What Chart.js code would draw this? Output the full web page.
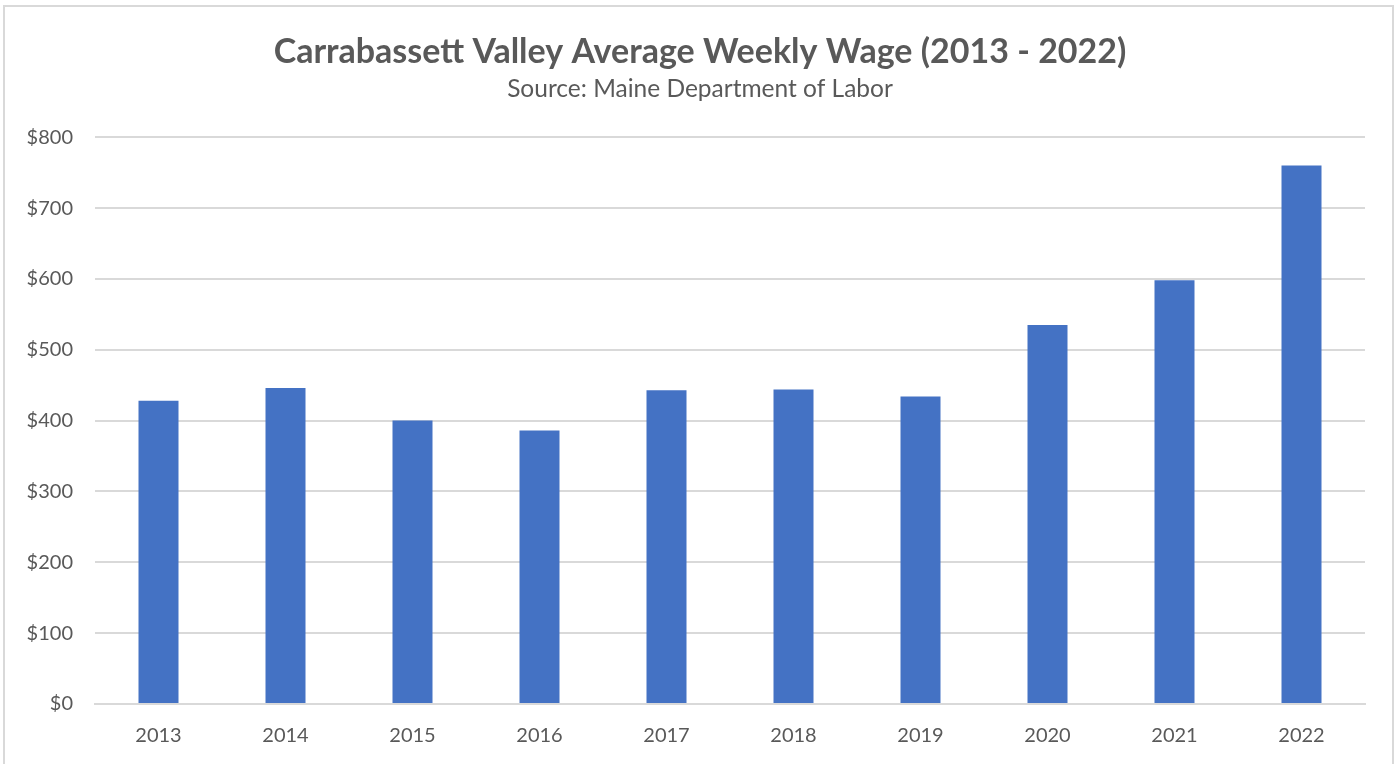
<!DOCTYPE html>
<html>
<head>
<meta charset="utf-8">
<script src="https://cdn.jsdelivr.net/npm/chart.js@4"></script>
<style>
  html, body { margin: 0; padding: 0; background: #fff; overflow: hidden; }
  #frame { position: absolute; left: 3px; top: 5px; width: 1387px; height: 800px; border: 2px solid #d9d9d9; }
  #wrap { position: absolute; left: 0; top: 0; width: 1400px; height: 764px; }
</style>
</head>
<body>
<div id="frame"></div>
<div id="wrap"><canvas id="myChart" width="1400" height="764"></canvas></div>
<script>
const years = ['2013', '2014', '2015', '2016', '2017', '2018', '2019', '2020', '2021', '2022'];
const weeklyWage = [428, 446, 400, 386, 443, 444, 434, 535, 598, 760];
const yTicks = [0, 100, 200, 300, 400, 500, 600, 700, 800];

const textColor = '#595959';
const fontName = 'Lato, "Open Sans", sans-serif';

// centre title + subtitle on the whole canvas, not on the padded box
const centreTitles = {
    id: 'centreTitles',
    afterLayout(chart) {
        chart.boxes.forEach(b => {
            if (b.position === 'top' && b.options && b.options.text) {
                b.left = 0;
                b.right = chart.width;
                b.width = chart.width;
            }
        });
    }
};

const ctx = document.getElementById('myChart').getContext('2d');
const chart = new Chart(ctx, {
    type: 'bar',
    data: {
        labels: years,
        datasets: [{
            label: 'Average Weekly Wage',
            backgroundColor: '#4472c4',
            borderWidth: 0,
            data: weeklyWage,
            barPercentage: 0.315,
            categoryPercentage: 1.0
        }]
    },
    options: {
        responsive: false,
        animation: false,
        layout: { padding: { top: 0, right: 35, bottom: 0, left: 0 } },
        plugins: {
            legend: { display: false },
            tooltip: { enabled: false },
            title: {
                display: true,
                text: 'Carrabassett Valley Average Weekly Wage (2013 - 2022)',
                color: textColor,
                font: { family: fontName, size: 34, weight: 'bold' },
                padding: { top: 32, bottom: 2 }
            },
            subtitle: {
                display: true,
                text: 'Source: Maine Department of Labor',
                color: textColor,
                font: { family: fontName, size: 24.5 },
                padding: { top: 0, bottom: 33 }
            }
        },
        scales: {
            x: {
                grid: { display: false },
                border: { color: '#d9d9d9', width: 2 },
                ticks: { color: textColor, font: { family: fontName, size: 20 }, padding: 12 },
                afterFit: scale => { scale.height = 60; }
            },
            y: {
                min: 0,
                max: 800,
                afterBuildTicks: scale => { scale.ticks = yTicks.map(v => ({ value: v })); },
                grid: { color: '#d9d9d9', lineWidth: 2, drawTicks: false },
                border: { display: false },
                ticks: {
                    color: textColor,
                    font: { family: fontName, size: 20 },
                    padding: 22,
                    callback: v => '$' + v
                },
                afterFit: scale => { scale.width = 95; }
            }
        }
    },
    plugins: [centreTitles]
});
</script>
</body>
</html>
